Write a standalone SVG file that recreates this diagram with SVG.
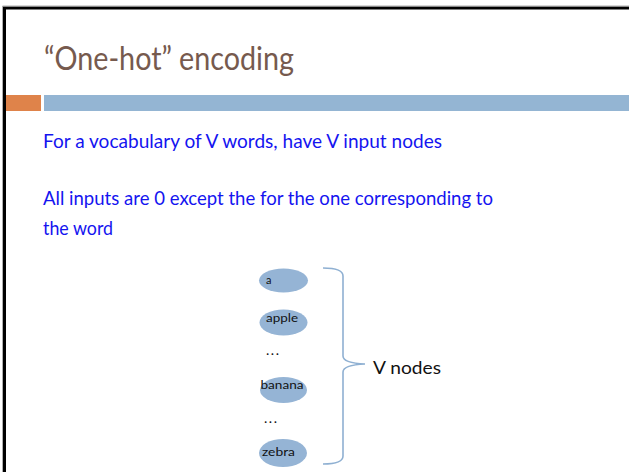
<svg xmlns="http://www.w3.org/2000/svg" width="629" height="472" viewBox="0 0 629 472">
  <style>
    .title { font-family: Lato, "Open Sans", sans-serif; font-size: 32px; fill: #765a4e; }
    .body { font-family: Lato, "Open Sans", sans-serif; font-size: 19px; fill: #1414f0; }
    .node ellipse { fill: #95b4d5; }
    .node text { font-family: Lato, "Open Sans", sans-serif; font-size: 11px; fill: #111; }
    .dots { font-family: Lato, "Open Sans", sans-serif; font-size: 14px; fill: #111; letter-spacing: 1px; }
    .label { font-family: Lato, "Open Sans", sans-serif; font-size: 17.5px; fill: #111; }
    .brace { fill: none; stroke: #8fb0d2; stroke-width: 1.6; }
  </style>

  <rect x="0" y="0" width="629" height="472" fill="#ffffff"/>

  <!-- slide frame -->
  <path d="M4.5 472 V8 H629" fill="none" stroke="#000" stroke-width="3"/>
  <path d="M2.5 472 V6 H629" fill="none" stroke="#9a9a9a" stroke-width="0.8"/>

  <!-- title -->
  <text class="title" x="44" y="70" textLength="250" lengthAdjust="spacingAndGlyphs">“One-hot” encoding</text>

  <!-- accent bars -->
  <rect x="6" y="95" width="35" height="16" fill="#df834a"/>
  <rect x="44" y="95" width="585" height="16" fill="#94b5d3"/>

  <!-- body text -->
  <text class="body" x="43" y="148" textLength="399" lengthAdjust="spacingAndGlyphs">For a vocabulary of V words, have V input nodes</text>
  <text class="body" x="43" y="205" textLength="450" lengthAdjust="spacingAndGlyphs">All inputs are 0 except the for the one corresponding to</text>
  <text class="body" x="43" y="235" textLength="70" lengthAdjust="spacingAndGlyphs">the word</text>

  <!-- input nodes -->
  <g id="node-a" class="node">
    <ellipse cx="283.5" cy="280.5" rx="24.5" ry="12"/>
    <text x="266" y="284">a</text>
  </g>
  <g id="node-apple" class="node">
    <ellipse cx="283.5" cy="322.5" rx="24" ry="13"/>
    <text x="266" y="322" textLength="32" lengthAdjust="spacingAndGlyphs">apple</text>
  </g>
  <text class="dots" x="266" y="355" textLength="14" lengthAdjust="spacing">...</text>
  <g id="node-banana" class="node">
    <ellipse cx="283.5" cy="390" rx="23.5" ry="13"/>
    <text x="260.5" y="389" textLength="43" lengthAdjust="spacingAndGlyphs">banana</text>
  </g>
  <text class="dots" x="264" y="423" textLength="14" lengthAdjust="spacing">...</text>
  <g id="node-zebra" class="node">
    <ellipse cx="283" cy="453" rx="24" ry="14"/>
    <text x="262" y="456" textLength="33" lengthAdjust="spacingAndGlyphs">zebra</text>
  </g>

  <!-- brace grouping the nodes -->
  <g id="connectors">
    <path class="brace" d="M323 268 Q343 268 343 276 V356 Q343 363 365 364 Q343 365 343 372 V456 Q343 464 323 464"/>
  </g>

  <g id="label-v-nodes">
    <text class="label" x="373" y="374" textLength="68" lengthAdjust="spacingAndGlyphs">V nodes</text>
  </g>
</svg>
